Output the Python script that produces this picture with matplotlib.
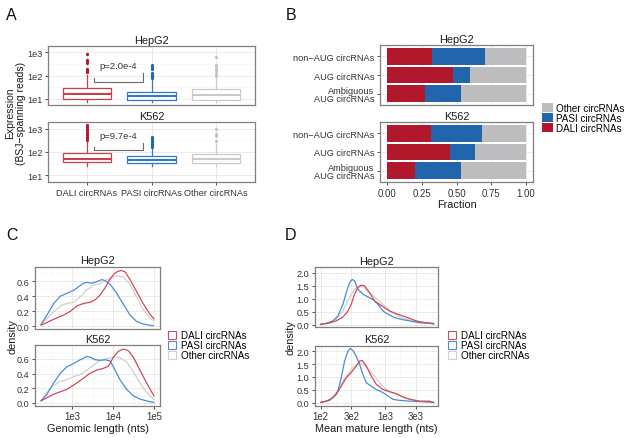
import matplotlib
matplotlib.use("Agg")
import matplotlib.pyplot as plt
import numpy as np
from matplotlib.patches import Patch
from matplotlib.ticker import FixedLocator, NullFormatter

plt.rcParams['font.family'] = ['Liberation Sans', 'DejaVu Sans']

# ---------------- data ----------------
groups = ["DALI circRNAs", "PASI circRNAs", "Other circRNAs"]
cell_lines = ["HepG2", "K562"]

# Panel A: boxplot statistics (BSJ-spanning reads)
hep_q1 = [10, 9, 9]
hep_med = [16, 12.5, 14]
hep_q3 = [30, 20, 26]
hep_lo = [7, 7, 7]
hep_hi = [110, 62, 85]
hep_fliers_dali = [140, 160, 180, 200, 360, 420, 480, 850]
hep_fliers_pasi = [75, 85, 95, 110, 130, 200, 240, 280]
hep_fliers_other = [100, 120, 150, 200, 250, 300, 650]

k_q1 = [36, 35, 35]
k_med = [50, 45, 48]
k_q3 = [95, 70, 82]
k_lo = [25, 25, 25]
k_hi = [300, 160, 220]
k_fliers_dali = [330, 380, 450, 550, 650, 800, 1000, 1200, 1450]
k_fliers_pasi = [170, 190, 220, 260, 300, 350, 400, 450]
k_fliers_other = [300, 500, 600, 950]

pvals = ["p=2.0e-4", "p=9.7e-4"]

# Panel B: fractions
b_cats = ["non\u2212AUG circRNAs", "AUG circRNAs", "Ambiguous\nAUG circRNAs"]
hep_dali_frac = [0.322, 0.475, 0.274]
hep_pasi_frac = [0.382, 0.121, 0.256]
hep_other_frac = [0.296, 0.404, 0.470]
k_dali_frac = [0.317, 0.456, 0.203]
k_pasi_frac = [0.363, 0.174, 0.331]
k_other_frac = [0.320, 0.370, 0.466]

# Panel C: density of log10 genomic length
c_hep_dali_x = [2.239, 2.546, 2.789, 2.951, 3.112, 3.274, 3.436, 3.557, 3.679, 3.8, 3.922, 4.03, 4.12, 4.2, 4.29, 4.407, 4.569, 4.73, 4.892, 4.99]
c_hep_dali_y = [0.014, 0.091, 0.149, 0.197, 0.269, 0.302, 0.317, 0.35, 0.413, 0.509, 0.629, 0.70, 0.73, 0.74, 0.72, 0.62, 0.46, 0.30, 0.16, 0.10]
c_hep_pasi_x = [2.239, 2.384, 2.546, 2.708, 2.87, 3.032, 3.153, 3.274, 3.355, 3.477, 3.598, 3.719, 3.8, 3.922, 4.083, 4.245, 4.407, 4.569, 4.73, 4.973]
c_hep_pasi_y = [0.024, 0.149, 0.302, 0.398, 0.437, 0.475, 0.523, 0.571, 0.581, 0.571, 0.59, 0.619, 0.605, 0.557, 0.437, 0.293, 0.149, 0.062, 0.029, 0.005]
c_hep_other_x = [2.239, 2.465, 2.708, 2.87, 3.032, 3.193, 3.355, 3.517, 3.679, 3.841, 4.003, 4.124, 4.245, 4.407, 4.569, 4.73, 4.892, 4.99]
c_hep_other_y = [0.024, 0.149, 0.269, 0.302, 0.317, 0.389, 0.485, 0.542, 0.566, 0.619, 0.653, 0.667, 0.653, 0.557, 0.389, 0.221, 0.11, 0.072]

c_k_dali_x = [2.239, 2.546, 2.87, 3.112, 3.274, 3.436, 3.598, 3.76, 3.881, 4.003, 4.124, 4.245, 4.367, 4.488, 4.65, 4.812, 4.99]
c_k_dali_y = [0.03, 0.119, 0.185, 0.273, 0.339, 0.405, 0.449, 0.471, 0.501, 0.625, 0.704, 0.735, 0.713, 0.625, 0.449, 0.273, 0.097]
c_k_pasi_x = [2.239, 2.384, 2.546, 2.708, 2.87, 3.032, 3.193, 3.355, 3.436, 3.557, 3.679, 3.8, 3.922, 4.043, 4.164, 4.326, 4.488, 4.65, 4.892, 4.99]
c_k_pasi_y = [0.03, 0.119, 0.273, 0.405, 0.493, 0.537, 0.589, 0.633, 0.625, 0.589, 0.581, 0.589, 0.572, 0.449, 0.317, 0.185, 0.097, 0.053, 0.017, 0.009]
c_k_other_x = [2.239, 2.465, 2.708, 2.87, 3.032, 3.193, 3.355, 3.517, 3.679, 3.841, 4.003, 4.164, 4.326, 4.488, 4.65, 4.812, 4.99]
c_k_other_y = [0.03, 0.207, 0.295, 0.317, 0.361, 0.383, 0.449, 0.515, 0.581, 0.603, 0.625, 0.616, 0.559, 0.427, 0.273, 0.141, 0.053]

# Panel D: density of log10 mean mature length
d_hep_dali_x = [2.0, 2.139, 2.243, 2.347, 2.425, 2.476, 2.528, 2.58, 2.632, 2.684, 2.762, 2.839, 2.917, 2.995, 3.073, 3.176, 3.28, 3.384, 3.487, 3.591, 3.695, 3.757]
d_hep_dali_y = [0.01, 0.06, 0.14, 0.29, 0.52, 0.78, 1.17, 1.42, 1.52, 1.49, 1.23, 0.91, 0.78, 0.65, 0.52, 0.42, 0.33, 0.24, 0.14, 0.09, 0.06, 0.04]
d_hep_pasi_x = [2.0, 2.088, 2.191, 2.269, 2.347, 2.399, 2.45, 2.492, 2.528, 2.58, 2.658, 2.736, 2.813, 2.891, 2.969, 3.047, 3.15, 3.254, 3.384, 3.539, 3.695, 3.757]
d_hep_pasi_y = [0.01, 0.05, 0.14, 0.33, 0.78, 1.23, 1.61, 1.74, 1.68, 1.36, 1.17, 1.06, 0.97, 0.78, 0.52, 0.40, 0.27, 0.20, 0.14, 0.07, 0.05, 0.02]
d_hep_other_x = [2.0, 2.139, 2.243, 2.347, 2.45, 2.528, 2.606, 2.658, 2.762, 2.865, 2.969, 3.073, 3.176, 3.28, 3.435, 3.591, 3.757]
d_hep_other_y = [0.01, 0.07, 0.20, 0.52, 1.04, 1.36, 1.49, 1.45, 1.23, 1.01, 0.78, 0.55, 0.37, 0.24, 0.14, 0.07, 0.04]

d_k_dali_x = [2.0, 2.139, 2.243, 2.321, 2.399, 2.476, 2.554, 2.606, 2.647, 2.71, 2.787, 2.865, 2.969, 3.073, 3.176, 3.28, 3.384, 3.539, 3.695, 3.757]
d_k_dali_y = [0.02, 0.10, 0.33, 0.65, 0.97, 1.17, 1.42, 1.61, 1.64, 1.42, 1.04, 0.72, 0.52, 0.43, 0.36, 0.23, 0.14, 0.07, 0.07, 0.02]
d_k_pasi_x = [2.0, 2.088, 2.191, 2.269, 2.321, 2.373, 2.425, 2.461, 2.502, 2.554, 2.606, 2.658, 2.71, 2.787, 2.865, 2.969, 3.047, 3.124, 3.228, 3.384, 3.591, 3.757]
d_k_pasi_y = [0.02, 0.07, 0.20, 0.46, 0.97, 1.61, 2.0, 2.10, 2.02, 1.80, 1.49, 1.10, 0.78, 0.65, 0.52, 0.40, 0.27, 0.14, 0.10, 0.07, 0.05, 0.02]
d_k_other_x = [2.0, 2.139, 2.243, 2.321, 2.399, 2.502, 2.606, 2.71, 2.813, 2.917, 3.021, 3.176, 3.332, 3.539, 3.757]
d_k_other_y = [0.02, 0.10, 0.36, 0.72, 1.04, 1.36, 1.55, 1.42, 1.10, 0.78, 0.52, 0.33, 0.18, 0.07, 0.02]

# ---------------- style ----------------
RED, BLUE, GREY = "#B2182B", "#2166AC", "#BDBDBF"
RED_L, BLUE_L, GREY_L = "#D04A59", "#4A8DD3", "#D0D0D0"
BOX_EDGE = ["#C8404E", "#3577C0", "#CACACA"]
FLIER_C = [RED, BLUE, "#C4C4C4"]
TXT = "#333333"

W, H = 640, 439
fig = plt.figure(figsize=(6.4, 4.39), dpi=100)


def add_ax(x0, y0, x1, y1):
    return fig.add_axes([x0 / W, 1 - y1 / H, (x1 - x0) / W, (y1 - y0) / H])


def style(ax, show_x=True):
    for s in ax.spines.values():
        s.set_color("#7F7F7F")
        s.set_linewidth(0.9)
    ax.tick_params(which="major", length=2.5, width=0.6, color=TXT,
                   labelsize=6.6, labelcolor=TXT, pad=1.5)
    ax.tick_params(which="minor", length=0)
    if not show_x:
        ax.tick_params(axis="x", which="both", length=0, labelbottom=False)
    ax.grid(which="major", color="#E6E6E6", lw=0.6)
    ax.grid(which="minor", color="#F3F3F3", lw=0.4)
    ax.set_axisbelow(True)


def ftext(x, y, s, **kw):
    fig.text(x / W, 1 - y / H, s, **kw)


# ---------------- Panel A ----------------
a_rows = [
    (47, 106, hep_q1, hep_med, hep_q3, hep_lo, hep_hi,
     [hep_fliers_dali, hep_fliers_pasi, hep_fliers_other], pvals[0], "HepG2",
     (80, 50, 130), 10 ** 2.42),
    (123, 183, k_q1, k_med, k_q3, k_lo, k_hi,
     [k_fliers_dali, k_fliers_pasi, k_fliers_other], pvals[1], "K562",
     (160, 117, 240), 10 ** 2.70),
]
for i, (y0, y1, q1, med, q3, lo, hi, fl, pv, title, br, ptxt) in enumerate(a_rows):
    ax = add_ax(48, y0, 255, y1)
    stats = []
    for j in range(3):
        stats.append(dict(q1=q1[j], med=med[j], q3=q3[j], whislo=lo[j],
                          whishi=hi[j], fliers=fl[j]))
    bp = ax.bxp(stats, positions=[1, 2, 3], widths=0.75, showcaps=False,
                patch_artist=True)
    for j in range(3):
        bp["boxes"][j].set(facecolor="white", edgecolor=BOX_EDGE[j], linewidth=0.9)
        bp["medians"][j].set(color=BOX_EDGE[j], linewidth=1.5)
        bp["whiskers"][2 * j].set(color=BOX_EDGE[j], linewidth=0.9)
        bp["whiskers"][2 * j + 1].set(color=BOX_EDGE[j], linewidth=0.9)
        bp["fliers"][j].set(marker="o", markersize=2.3, markerfacecolor=FLIER_C[j],
                            markeredgecolor="none")
    ax.set_yscale("log")
    ax.set_ylim(10 ** 0.72, 10 ** 3.28)
    ax.set_xlim(0.4, 3.6)
    ax.set_yticks([10, 100, 1000])
    ax.set_yticklabels(["1e1", "1e2", "1e3"])
    ax.yaxis.set_minor_locator(FixedLocator([10 ** 1.5, 10 ** 2.5]))
    ax.yaxis.set_minor_formatter(NullFormatter())
    ax.set_xticks([1, 2, 3])
    ax.set_xticklabels(groups)
    style(ax, show_x=(i == 1))
    ax.tick_params(axis="x", labelsize=6.6)
    # significance bracket
    lh, top, rh = br
    ax.plot([1.11, 1.11, 1.87, 1.87], [lh, top, top, rh], color="#6A6A6A", lw=0.8)
    ax.text(1.48, ptxt, pv, ha="center", va="center", fontsize=6.8, color=TXT)
    ax.set_title(title, fontsize=7.8, color="#1A1A1A", pad=2.5)

ftext(15.5, 113, "Expression\n(BSJ\u2212spanning reads)", rotation=90, ha="center",
      va="center", fontsize=7.5, color="#1A1A1A", linespacing=1.15)

# ---------------- Panel B ----------------
b_rows = [(46, 106, hep_dali_frac, hep_pasi_frac, hep_other_frac, "HepG2"),
          (123, 183, k_dali_frac, k_pasi_frac, k_other_frac, "K562")]
ypos = [3, 2, 1]
for i, (y0, y1, d, p, o, title) in enumerate(b_rows):
    ax = add_ax(380, y0, 533, y1)
    d = np.array(d); p = np.array(p); o = np.array(o)
    ax.barh(ypos, d, height=0.9, color=RED)
    ax.barh(ypos, p, left=d, height=0.9, color=BLUE)
    ax.barh(ypos, o, left=d + p, height=0.9, color=GREY)
    ax.set_xlim(-0.05, 1.05)
    ax.set_ylim(0.4, 3.6)
    ax.set_yticks(ypos)
    ax.set_yticklabels(b_cats)
    for lbl in ax.get_yticklabels():
        lbl.set_linespacing(0.95)
    ax.set_xticks([0, 0.25, 0.5, 0.75, 1.0])
    ax.set_xticklabels(["0.00", "0.25", "0.50", "0.75", "1.00"])
    ax.xaxis.set_minor_locator(FixedLocator([0.125, 0.375, 0.625, 0.875]))
    style(ax, show_x=(i == 1))
    ax.tick_params(axis="x", labelsize=6.9)
    ax.set_title(title, fontsize=7.8, color="#1A1A1A", pad=2.5)
    if i == 1:
        ax.set_xlabel("Fraction", fontsize=7.8, color="#1A1A1A", labelpad=1)

fig.legend(handles=[Patch(facecolor=GREY), Patch(facecolor=BLUE), Patch(facecolor=RED)],
           labels=["Other circRNAs", "PASI circRNAs", "DALI circRNAs"],
           loc="upper left", bbox_to_anchor=(542 / W, 1 - 104 / H), frameon=False,
           fontsize=7.1, handlelength=1.1, handleheight=1.0, handletextpad=0.35,
           labelspacing=0.0, borderpad=0, borderaxespad=0)

# ---------------- Panel C / D ----------------
def density_panel(x0, x1, rows, xlim, xt, xtl, xminor, ylim, yt, ytl, yminor, xlabel):
    for i, (y0, y1, series, title) in enumerate(rows):
        ax = add_ax(x0, y0, x1, y1)
        for (xs, ys, col) in series:
            ax.plot(10 ** np.array(xs), ys, color=col, lw=0.9,
                    solid_joinstyle="round")
        ax.set_xscale("log")
        ax.set_xlim(10 ** xlim[0], 10 ** xlim[1])
        ax.set_ylim(*ylim)
        ax.set_xticks([10 ** v for v in xt])
        ax.set_xticklabels(xtl)
        ax.xaxis.set_minor_locator(FixedLocator([10 ** v for v in xminor]))
        ax.xaxis.set_minor_formatter(NullFormatter())
        ax.set_yticks(yt)
        ax.set_yticklabels(ytl)
        ax.yaxis.set_minor_locator(FixedLocator(yminor))
        style(ax, show_x=(i == 1))
        ax.tick_params(axis="x", labelsize=6.9)
        ax.set_title(title, fontsize=7.8, color="#1A1A1A", pad=2.5)
        if i == 1:
            ax.set_xlabel(xlabel, fontsize=7.8, color="#1A1A1A", labelpad=1)


density_panel(35, 160,
              [(267.7, 330, [(c_hep_other_x, c_hep_other_y, GREY_L),
                             (c_hep_pasi_x, c_hep_pasi_y, BLUE_L),
                             (c_hep_dali_x, c_hep_dali_y, RED_L)], "HepG2"),
               (346, 406.7, [(c_k_other_x, c_k_other_y, GREY_L),
                             (c_k_pasi_x, c_k_pasi_y, BLUE_L),
                             (c_k_dali_x, c_k_dali_y, RED_L)], "K562")],
              (2.09, 5.14), [3, 4, 5], ["1e3", "1e4", "1e5"], [2.5, 3.5, 4.5],
              (-0.0375, 0.79), [0, 0.2, 0.4, 0.6], ["0.0", "0.2", "0.4", "0.6"],
              [0.1, 0.3, 0.5, 0.7], "Genomic length (nts)")

density_panel(315, 438.3,
              [(268.3, 328.3, [(d_hep_other_x, d_hep_other_y, GREY_L),
                               (d_hep_pasi_x, d_hep_pasi_y, BLUE_L),
                               (d_hep_dali_x, d_hep_dali_y, RED_L)], "HepG2"),
               (346.7, 406.7, [(d_k_other_x, d_k_other_y, GREY_L),
                               (d_k_pasi_x, d_k_pasi_y, BLUE_L),
                               (d_k_dali_x, d_k_dali_y, RED_L)], "K562")],
              (1.913, 3.83), [2, np.log10(300), 3, np.log10(3000)],
              ["1e2", "3e2", "1e3", "3e3"], [2.24, 2.74, 3.24, 3.74],
              (-0.105, 2.205), [0, 0.5, 1.0, 1.5, 2.0], ["0.0", "0.5", "1.0", "1.5", "2.0"],
              [0.25, 0.75, 1.25, 1.75], "Mean mature length (nts)")

ftext(12, 337, "density", rotation=90, ha="center", va="center", fontsize=7.8, color="#1A1A1A")
ftext(291, 338, "density", rotation=90, ha="center", va="center", fontsize=7.8, color="#1A1A1A")

line_handles = [Patch(facecolor="white", edgecolor=RED_L, linewidth=0.8),
                Patch(facecolor="white", edgecolor=BLUE_L, linewidth=0.8),
                Patch(facecolor="white", edgecolor=GREY_L, linewidth=0.8)]
line_labels = ["DALI circRNAs", "PASI circRNAs", "Other circRNAs"]
for lx in (167.5, 447.5):
    fig.legend(handles=line_handles, labels=line_labels, loc="upper left",
               bbox_to_anchor=(lx / W, 1 - 331 / H), frameon=False, fontsize=7.1,
               handlelength=0.85, handleheight=0.85, handletextpad=0.55,
               labelspacing=0.0, borderpad=0, borderaxespad=0)

# panel letters
for lab, x, y in [("A", 11, 15), ("B", 291, 15), ("C", 12, 236), ("D", 291, 236)]:
    ftext(x, y, lab, ha="center", va="center", fontsize=11.5, color="#111111")

fig.savefig("out.png", dpi=100)
